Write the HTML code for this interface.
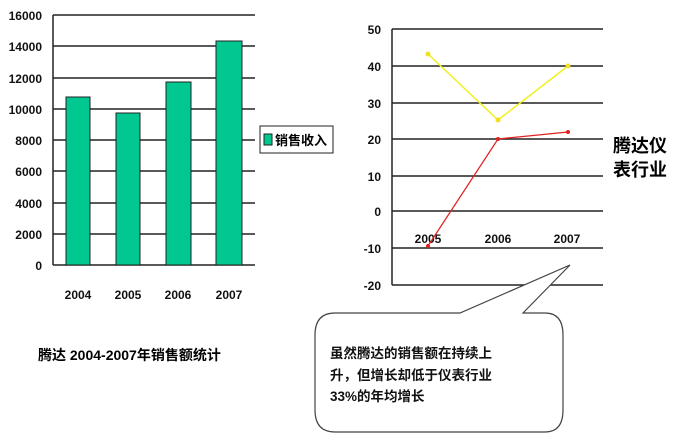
<!DOCTYPE html>
<html><head><meta charset="utf-8"><style>
body{margin:0;background:#fff;width:679px;height:441px;overflow:hidden}
text{font-family:"Liberation Sans","Noto Sans CJK SC",sans-serif}
</style></head><body>
<svg width="679" height="441" xmlns="http://www.w3.org/2000/svg">
<g stroke="#222" stroke-width="1.5">
<line x1="53" y1="15" x2="255" y2="15"/><line x1="53" y1="46" x2="255" y2="46"/><line x1="53" y1="78" x2="255" y2="78"/><line x1="53" y1="109" x2="255" y2="109"/><line x1="53" y1="140" x2="255" y2="140"/><line x1="53" y1="171" x2="255" y2="171"/><line x1="53" y1="203" x2="255" y2="203"/><line x1="53" y1="234" x2="255" y2="234"/><line x1="53" y1="265" x2="255" y2="265"/>
<line x1="53" y1="15" x2="53" y2="265"/>
</g>
<g fill="#00c890" stroke="#222" stroke-width="1">
<rect x="66" y="97" width="24" height="168"/><rect x="116" y="113" width="24" height="152"/><rect x="166" y="82" width="25" height="183"/><rect x="216" y="41" width="26" height="224"/>
</g>
<g font-size="12" font-weight="bold" text-anchor="end" fill="#111">
<text x="42" y="20">16000</text><text x="42" y="51">14000</text><text x="42" y="83">12000</text><text x="42" y="114">10000</text><text x="42" y="145">8000</text><text x="42" y="176">6000</text><text x="42" y="208">4000</text><text x="42" y="239">2000</text><text x="42" y="270">0</text>
</g>
<g font-size="12" font-weight="bold" text-anchor="middle" fill="#111">
<text x="78" y="299">2004</text><text x="128" y="299">2005</text><text x="178" y="299">2006</text><text x="229" y="299">2007</text>
</g>
<rect x="260" y="126" width="73" height="27" fill="#fff" stroke="#222"/>
<rect x="264" y="134" width="8" height="11" fill="#00c890" stroke="#222"/>
<text x="275" y="145" font-size="13" font-weight="bold">销售收入</text>
<text x="38" y="360" font-size="14" font-weight="bold">腾达 2004-2007年销售额统计</text>

<g stroke="#222" stroke-width="1.5">
<line x1="392" y1="29" x2="603" y2="29"/><line x1="392" y1="66" x2="603" y2="66"/><line x1="392" y1="103" x2="603" y2="103"/><line x1="392" y1="139" x2="603" y2="139"/><line x1="392" y1="176" x2="603" y2="176"/><line x1="392" y1="211" x2="603" y2="211"/><line x1="392" y1="248" x2="603" y2="248"/><line x1="392" y1="285" x2="603" y2="285"/>
<line x1="392" y1="29" x2="392" y2="285"/>
</g>
<g font-size="12" font-weight="bold" text-anchor="end" fill="#111">
<text x="381" y="34">50</text><text x="381" y="71">40</text><text x="381" y="108">30</text><text x="381" y="144">20</text><text x="381" y="181">10</text><text x="381" y="216">0</text><text x="381" y="253">-10</text><text x="381" y="290">-20</text>
</g>
<g font-size="12" font-weight="bold" text-anchor="middle" fill="#111">
<text x="428" y="243">2005</text><text x="498" y="243">2006</text><text x="567" y="243">2007</text>
</g>
<polyline points="428,54 498,120 568,66" fill="none" stroke="#f0f020" stroke-width="1.5"/>
<polyline points="428,246 498,139 568,132" fill="none" stroke="#e02020" stroke-width="1.2"/>
<g fill="#f0e020"><circle cx="428" cy="54" r="2.5"/><circle cx="498" cy="120" r="2.5"/><circle cx="568" cy="66" r="2.5"/></g>
<g fill="#e02020"><circle cx="428" cy="246" r="2"/><circle cx="498" cy="139" r="2"/><circle cx="568" cy="132" r="2"/></g>
<text x="613" y="152" font-size="18" font-weight="bold">腾达仪</text>
<text x="613" y="176" font-size="18" font-weight="bold">表行业</text>

<path d="M335,313 L460,313 L570,265 L523,313 L545,313 Q563,313 563,335 L563,410 Q563,432 545,432 L335,432 Q315,432 315,410 L315,335 Q315,313 335,313 Z" fill="#fff" stroke="#444" stroke-width="1.2"/>
<g font-size="13.5" font-weight="bold" fill="#111">
<text x="330" y="358">虽然腾达的销售额在持续上</text>
<text x="330" y="380">升，但增长却低于仪表行业</text>
<text x="330" y="401">33%的年均增长</text>
</g>
</svg>
</body></html>
